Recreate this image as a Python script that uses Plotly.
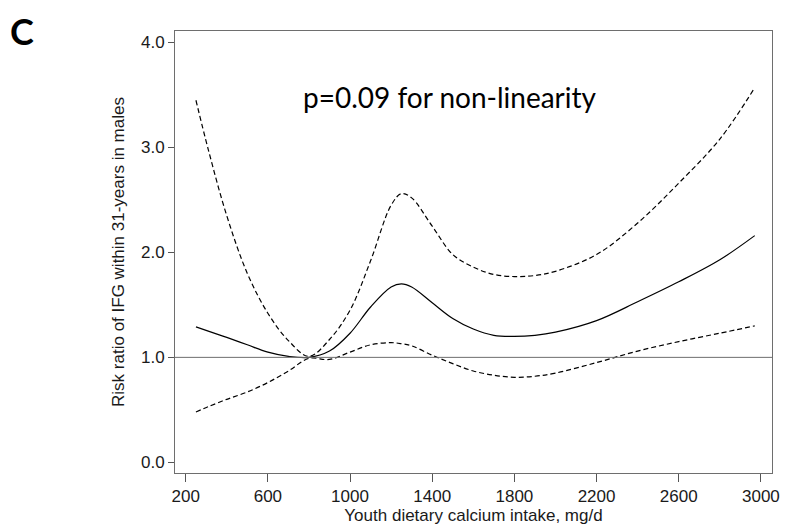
import plotly.graph_objects as go

# calcium intake (mg/d) and risk ratio curves
intake = [250, 310, 400, 500, 600, 700, 800, 900, 1000, 1100, 1200, 1250, 1300,
          1400, 1500, 1600, 1700, 1800, 1900, 2000, 2200, 2400, 2600, 2800, 2970]
rr = [1.29, 1.25, 1.19, 1.12, 1.05, 1.01, 1.00, 1.06, 1.23, 1.48, 1.67, 1.70, 1.67,
      1.52, 1.37, 1.27, 1.21, 1.20, 1.21, 1.24, 1.35, 1.53, 1.72, 1.93, 2.16]
rr_upper = [3.45, 2.98, 2.35, 1.80, 1.42, 1.16, 1.01, 1.17, 1.45, 1.92, 2.45, 2.56, 2.52,
            2.25, 1.98, 1.86, 1.79, 1.77, 1.78, 1.82, 1.98, 2.28, 2.66, 3.08, 3.57]
rr_lower = [0.48, 0.53, 0.60, 0.67, 0.76, 0.87, 0.99, 0.98, 1.05, 1.12, 1.14, 1.13, 1.11,
            1.02, 0.94, 0.87, 0.83, 0.81, 0.82, 0.85, 0.95, 1.06, 1.15, 1.23, 1.30]

x_ticks = [200, 600, 1000, 1400, 1800, 2200, 2600, 3000]
y_ticks = [0, 1, 2, 3, 4]
y_tick_labels = ["0.0", "1.0", "2.0", "3.0", "4.0"]

fig = go.Figure()

# reference line at RR = 1
fig.add_hline(y=1, line=dict(color="#6e6e6e", width=1))

fig.add_trace(go.Scatter(x=intake, y=rr_upper, mode="lines", line_shape="spline",
                         line=dict(color="black", width=1.2, dash="5px,3px")))
fig.add_trace(go.Scatter(x=intake, y=rr, mode="lines", line_shape="spline",
                         line=dict(color="black", width=1.2)))
fig.add_trace(go.Scatter(x=intake, y=rr_lower, mode="lines", line_shape="spline",
                         line=dict(color="black", width=1.2, dash="5px,3px")))

axis_font = dict(family="Liberation Sans, Arial, sans-serif", size=17, color="#1a1a1a")

# page body has an 8px margin, so the figure is a bit smaller than the window
fig.update_layout(
    width=786, height=520,
    showlegend=False,
    plot_bgcolor="white", paper_bgcolor="white",
    margin=dict(l=167, r=22, t=23, b=55),
    xaxis=dict(
        range=[148, 3054], tickvals=x_ticks, ticks="outside", ticklen=8,
        tickcolor="#555", showline=True, linecolor="#6e6e6e", linewidth=1,
        mirror=True, showgrid=False, zeroline=False, tickfont=axis_font,
        automargin=False,
        title=dict(text="Youth dietary calcium intake, mg/d", font=axis_font, standoff=0),
    ),
    yaxis=dict(
        range=[-0.102, 4.11], tickvals=y_ticks, ticktext=y_tick_labels,
        ticks="outside", ticklen=6, tickcolor="#555", showline=True,
        linecolor="#6e6e6e", linewidth=1, mirror=True, showgrid=False,
        zeroline=False, tickfont=axis_font, automargin=False,
        title=dict(text="Risk ratio of IFG within 31-years in males", font=axis_font, standoff=12),
    ),
)

fig.add_annotation(x=1485, y=3.48, text="p=0.09 for non-linearity", showarrow=False,
                   xanchor="center", yanchor="middle",
                   font=dict(family="Lato, sans-serif", size=28, color="black"))
fig.add_annotation(xref="paper", yref="paper", x=-0.2571, y=1.0, text="<b>C</b>",
                   showarrow=False, xanchor="center", yanchor="middle",
                   font=dict(family="Lato, sans-serif", size=36, color="black"))

fig.write_html("out.html")
